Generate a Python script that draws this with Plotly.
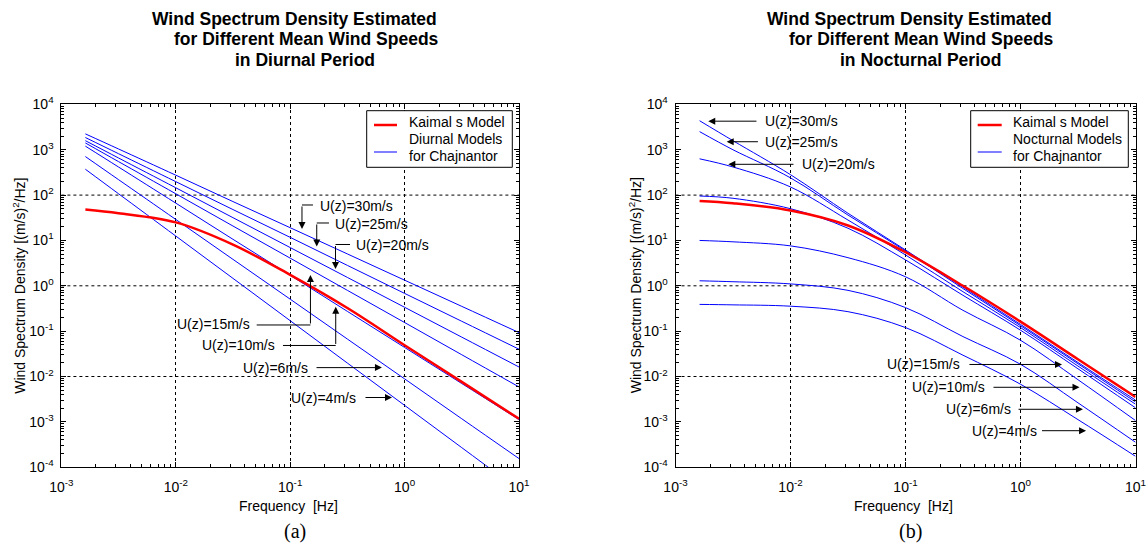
import plotly.graph_objects as go

# ---------------------------------------------------------------- data
# Frequency grid shared by every spectrum [Hz]
freq = [1.62e-3, 3.16e-3, 1.0e-2, 3.16e-2, 1.0e-1, 3.16e-1, 1.0, 3.16, 10.0]

wind_speeds = ["30", "25", "20", "15", "10", "6", "4"]

# Daytime: Kaimal reference spectrum and Chajnantor models [(m/s)^2/Hz]
kaimal_day = [47.9, 39.8, 25.0, 8.1, 1.74, 0.324, 0.049, 0.0076, 0.00117]
day_u30 = [2240, 1040, 275, 72.0, 19.1, 5.05, 1.33, 0.352, 0.093]
day_u25 = [1860, 818, 198, 48.0, 11.7, 2.82, 0.68, 0.165, 0.040]
day_u20 = [1585, 658, 145, 31.8, 6.97, 1.53, 0.336, 0.0738, 0.0162]
day_u15 = [1413, 547, 107, 20.8, 4.07, 0.794, 0.155, 0.0302, 0.00589]
day_u10 = [1202, 416, 66.5, 10.6, 1.71, 0.273, 0.0437, 0.0070, 0.00112]
day_u6 = [708, 219, 29.0, 3.83, 0.507, 0.0670, 0.00887, 0.00117, 0.000155]
day_u4 = [372, 107, 12.5, 1.46, 0.170, 0.0198, 0.00231, 0.00027, 0.0000315]

# Night-time: Kaimal reference spectrum and Chajnantor models [(m/s)^2/Hz]
kaimal_night = [74.1, 66.1, 45.7, 21.4, 5.50, 1.0, 0.162, 0.024, 0.00355]
night_u30 = [4365, 1585, 282, 39.8, 6.17, 0.933, 0.141, 0.0204, 0.00302]
night_u25 = [2512, 1000, 240, 36.3, 5.89, 0.871, 0.132, 0.0191, 0.00275]
night_u20 = [631, 417, 151, 28.2, 4.79, 0.741, 0.120, 0.0170, 0.00245]
night_u15 = [95.5, 85.1, 50.1, 18.6, 3.72, 0.617, 0.105, 0.0148, 0.00204]
night_u10 = [10.0, 9.33, 7.59, 4.17, 1.58, 0.288, 0.063, 0.0085, 0.00107]
night_u6 = [1.29, 1.23, 1.10, 0.794, 0.331, 0.0759, 0.0186, 0.00263, 0.000355]
night_u4 = [0.389, 0.380, 0.355, 0.269, 0.120, 0.0295, 0.00676, 0.00112, 0.000174]

day_models = [day_u30, day_u25, day_u20, day_u15, day_u10, day_u6, day_u4]
night_models = [night_u30, night_u25, night_u20, night_u15, night_u10, night_u6, night_u4]

# decade ticks
x_tickvals = [1e-3, 1e-2, 1e-1, 1e0, 1e1]
x_ticktext = ["10<sup>-3</sup>", "10<sup>-2</sup>", "10<sup>-1</sup>",
              "10<sup>0</sup>", "10<sup>1</sup>"]
y_tickvals = [1e-4, 1e-3, 1e-2, 1e-1, 1e0, 1e1, 1e2, 1e3, 1e4]
y_ticktext = ["10<sup>-4</sup>", "10<sup>-3</sup>", "10<sup>-2</sup>",
              "10<sup>-1</sup>", "10<sup>0</sup>", "10<sup>1</sup>",
              "10<sup>2</sup>", "10<sup>3</sup>", "10<sup>4</sup>"]
grid_y = [1e-2, 1e0, 1e2]

# ---------------------------------------------------------------- style
W, H = 1147, 543
FONT = "Liberation Sans, Arial, sans-serif"
BLUE = "#0000ff"
RED = "#ff0000"

# plot rectangles in pixels: (left, right, top, bottom)
LEFT_BOX = (61.4, 519.0, 104.4, 467.2)
RIGHT_BOX = (675.5, 1135.5, 104.4, 467.2)


def px_domain(box):
    l, r, t, b = box
    return [l / W, r / W], [1 - b / H, 1 - t / H]


def px(x, y):
    """pixel position -> paper fraction"""
    return x / W, 1 - y / H


fig = go.Figure()


def add_panel(models, kaimal, xa, ya):
    for u, vals in zip(wind_speeds, models):
        fig.add_trace(go.Scatter(
            x=freq, y=vals, mode="lines", name="U(z)=%sm/s" % u,
            line=dict(color=BLUE, width=1, shape="spline", smoothing=1.0),
            showlegend=False, xaxis=xa, yaxis=ya, hoverinfo="skip"))
    fig.add_trace(go.Scatter(
        x=freq, y=kaimal, mode="lines", name="Kaimal s Model",
        line=dict(color=RED, width=2.5, shape="spline", smoothing=1.0),
        showlegend=False, xaxis=xa, yaxis=ya, hoverinfo="skip"))


add_panel(day_models, kaimal_day, "x", "y")
add_panel(night_models, kaimal_night, "x2", "y2")

axis_common = dict(
    type="log", showline=True, linecolor="black", linewidth=1,
    mirror="allticks", ticks="inside", ticklen=5, tickcolor="black",
    tickwidth=1, tickmode="array", automargin=False,
    zeroline=False, gridcolor="black", gridwidth=1, griddash="3px,3px",
    tickfont=dict(family=FONT, size=14, color="black"),
    minor=dict(ticks="inside", ticklen=3, tickcolor="black", dtick="D1",
               showgrid=False),
)
x_axis = dict(axis_common, tickvals=x_tickvals, ticktext=x_ticktext,
              range=[-3, 1], showgrid=True, ticklabelstandoff=7)
y_axis = dict(axis_common, tickvals=y_tickvals, ticktext=y_ticktext,
              range=[-4, 4], showgrid=False, ticklabelstandoff=4)

lx, ly = px_domain(LEFT_BOX)
rx, ry = px_domain(RIGHT_BOX)

fig.update_layout(
    template="none", showlegend=False,
    width=W, height=H, margin=dict(l=0, r=0, t=0, b=0, pad=0),
    paper_bgcolor="white", plot_bgcolor="white",
    font=dict(family=FONT, color="black", size=14),
    xaxis=dict(x_axis, domain=lx, anchor="y"),
    yaxis=dict(y_axis, domain=ly, anchor="x"),
    xaxis2=dict(x_axis, domain=rx, anchor="y2"),
    yaxis2=dict(y_axis, domain=ry, anchor="x2"),
)

# horizontal grid at every second decade
for ya, xa in (("y", "x"), ("y2", "x2")):
    for g in grid_y:
        fig.add_shape(type="line", xref=xa + " domain", yref=ya,
                      x0=0, x1=1, y0=g, y1=g, layer="below",
                      line=dict(color="black", width=1, dash="3px,3px"))

# ---------------------------------------------------------------- labels
annotations = []


def text(x, y, s, xref="paper", yref="paper", **kw):
    d = dict(x=x, y=y, text=s, xref=xref, yref=yref, showarrow=False,
             font=kw.pop("font", dict(family=FONT, size=14, color="black")))
    d.update(kw)
    annotations.append(d)


def arrow(xt, yt, xh, yh, xa, ya):
    # log10 positions; arrow from tail (xt, yt) to head (xh, yh)
    annotations.append(dict(
        x=xh, y=yh, ax=xt, ay=yt, xref=xa, yref=ya, axref=xa, ayref=ya,
        text="", showarrow=True, arrowhead=2, arrowsize=1.4,
        arrowwidth=1, arrowcolor="black", standoff=0, startstandoff=0))


def leader(x0, x1, y, xa, ya):
    fig.add_shape(type="line", xref=xa, yref=ya,
                  x0=10 ** x0, x1=10 ** x1, y0=10 ** y, y1=10 ** y,
                  line=dict(color="black", width=1))


# legends: framed box with line samples for the two model families
for (bx0, bx1, sx0, sx1, tx), family in (
        ((366.7, 512.3, 374.0, 397.0, 406.7), "Diurnal Models"),
        ((970.7, 1128.3, 977.7, 1001.7, 1010.7), "Nocturnal Models")):
    x0, y0 = px(bx0, 110.7)
    x1, y1 = px(bx1, 167.3)
    fig.add_shape(type="rect", xref="paper", yref="paper",
                  x0=x0, x1=x1, y0=y0, y1=y1, layer="above",
                  fillcolor="white", line=dict(color="black", width=1))
    for yy, col, lw in ((125.0, RED, 2.5), (152.0, BLUE, 1)):
        a0, b0 = px(sx0, yy)
        a1, _ = px(sx1, yy)
        fig.add_shape(type="line", xref="paper", yref="paper",
                      x0=a0, x1=a1, y0=b0, y1=b0, layer="above",
                      line=dict(color=col, width=lw))
    for yy, s in ((121.7, "Kaimal s Model"), (139.0, family),
                  (156.0, "for Chajnantor")):
        xx, yp = px(tx, yy)
        text(xx, yp, s, xanchor="left", yanchor="middle",
             font=dict(family=FONT, size=14, color="black"))

# titles
title_font = dict(family=FONT, size=17.5, color="black")
for dx, period in ((0, "Diurnal"), (615.5, "Nocturnal")):
    text((294 + dx) / W, 1 - 19.5 / H, "<b>Wind Spectrum Density Estimated</b>",
         xanchor="center", yanchor="middle", font=title_font)
    text((306 + dx) / W, 1 - 39.5 / H, "<b>for Different Mean Wind Speeds</b>",
         xanchor="center", yanchor="middle", font=title_font)
    text((305 + dx) / W, 1 - 60.5 / H, "<b>in %s Period</b>" % period,
         xanchor="center", yanchor="middle", font=title_font)

# axis titles and panel tags
for dx, tag in ((0, "(a)"), (615.5, "(b)")):
    text((288 + dx) / W, 1 - 506 / H, "Frequency  [Hz]",
         xanchor="center", yanchor="middle")
    text((19 + dx) / W, 1 - 285.8 / H,
         "Wind Spectrum Density [(m/s)<sup>2</sup>/Hz]",
         yanchor="middle", xanchor="center", textangle=-90)
    text((295 + dx) / W, 1 - 531 / H, tag, xanchor="center", yanchor="middle",
         font=dict(family="Liberation Serif, Times New Roman, serif",
                   size=20, color="black"))

# diurnal panel: speed call-outs (log10 coordinates)
for u, xv, yt, yh, xe, xtext in (("30", -0.897, 1.782, 1.253, -0.801, -0.757),
                                  ("25", -0.768, 1.385, 0.867, -0.661, -0.626),
                                  ("20", -0.604, 0.911, 0.370, -0.477, -0.442)):
    leader(xv, xe, yt, "x", "y")
    arrow(xv, yt, xv, yh, "x", "y")
    text(xtext, yt - 0.02, "U(z)=%sm/s" % u, "x", "y",
         xanchor="left", yanchor="middle")

for u, xtext, ytext, x0, xv, yl, yh in (("15", -1.334, -0.84, -1.293, -0.823, -0.864, 0.238),
                                         ("10", -1.115, -1.30, -1.063, -0.602, -1.316, -0.461)):
    leader(x0, xv, yl, "x", "y")
    arrow(xv, yl, xv, yh, "x", "y")
    text(xtext, ytext, "U(z)=%sm/s" % u, "x", "y",
         xanchor="right", yanchor="middle")

for u, xtext, y, xt, xh in (("6", -0.827, -1.804, -0.783, -0.198),
                            ("4", -0.407, -2.463, -0.355, -0.110)):
    arrow(xt, y, xh, y, "x", "y")
    text(xtext, y, "U(z)=%sm/s" % u, "x", "y",
         xanchor="right", yanchor="middle")

# nocturnal panel: speed call-outs (log10 coordinates)
for u, xtext, y, xt, xh in (("30", -2.237, 3.630, -2.283, -2.715),
                            ("25", -2.239, 3.177, -2.270, -2.555),
                            ("20", -1.917, 2.679, -1.961, -2.541)):
    arrow(xt, y, xh, y, "x2", "y2")
    text(xtext, y, "U(z)=%sm/s" % u, "x2", "y2",
         xanchor="left", yanchor="middle")

for u, xtext, y, xt, xh in (("15", -0.509, -1.735, -0.457, 0.361),
                            ("10", -0.291, -2.238, -0.248, 0.513),
                            ("6", -0.065, -2.723, -0.030, 0.543),
                            ("4", 0.157, -3.195, 0.174, 0.570)):
    arrow(xt, y, xh, y, "x2", "y2")
    text(xtext, y, "U(z)=%sm/s" % u, "x2", "y2",
         xanchor="right", yanchor="middle")

fig.update_layout(annotations=annotations)

fig.write_html("out.html")
